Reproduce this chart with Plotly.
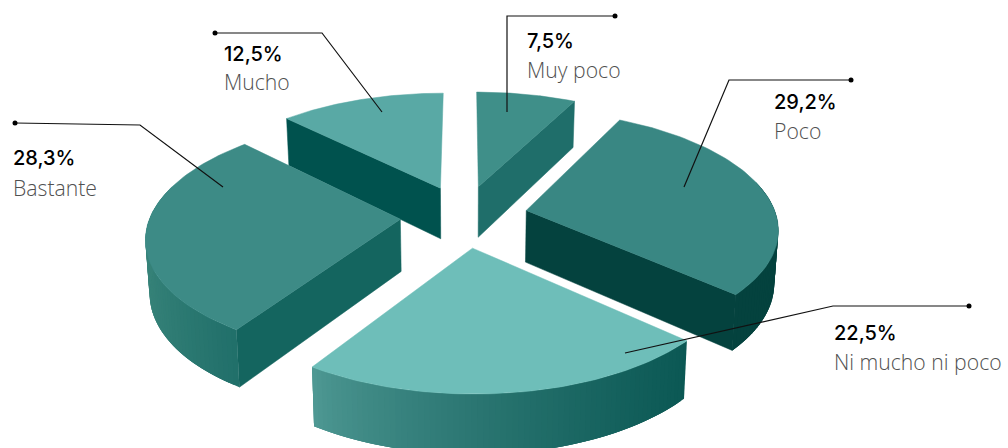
import numpy as np
import plotly.graph_objects as go

# Survey shares, clockwise from twelve o'clock
categories = ["Muy poco", "Poco", "Ni mucho ni poco", "Bastante", "Mucho"]
values = [7.5, 29.2, 22.5, 28.3, 12.5]

# Face colours per slice
top_colors = ["#3f8f89", "#398783", "#6ebeb9", "#3d8b86", "#59a9a5"]
wall_start = ["#1f6e6a", "#04423e", "#0b5854", "#14655f", "#00524e"]
wall_end = ["#1f6e6a", "#04423e", "#0b5854", "#14655f", "#00524e"]
rim_left = ["#1f6e6a", "#04423e", "#4f9994", "#378379", "#00524e"]
rim_right = ["#1f6e6a", "#04423e", "#0b5854", "#1f6e69", "#00524e"]
draw_order = [4, 0, 3, 1, 2]
# Radial wall turned towards the viewer: 0 = leading edge, -1 = trailing edge
facing_wall = [-1, -1, None, 0, 0]

# Label placement: text corner, leader polyline
label_xy = [(527, 41, 69), (774, 102, 130), (834, 333, 361), (13, 158, 187), (224, 54, 81)]
leaders = [
    [(615, 16), (507, 16), (507, 112)],
    [(851, 80), (729, 80), (684, 187)],
    [(969, 306), (833, 306), (625, 353)],
    [(15, 123), (140, 125), (223, 187)],
    [(215, 33), (322, 33), (382, 112)],
]

# Projection of the tilted disc onto the page
CX, CY, A, B, P = 464.0, 216.0, 250.0, 115.5, 0.14
EXPLODE_X, EXPLODE_Y, DEPTH, DEPTH_P, FOOT_SCALE = 0.255, 0.27, 52.0, 0.11, 0.987
ARC_STEPS = 72


def project(X, Y, lower=False):
    X, Y = np.asarray(X, float), np.asarray(Y, float)
    f = 1.0 / (1.0 + P * Y)
    sx, sy = A * X * f, -B * Y * f
    if lower:
        return CX + sx * FOOT_SCALE, CY + sy + DEPTH / (1.0 + DEPTH_P * Y)
    return CX + sx, CY + sy


def mix(c1, c2, t):
    a = [int(c1[i:i + 2], 16) for i in (1, 3, 5)]
    b = [int(c2[i:i + 2], 16) for i in (1, 3, 5)]
    return "rgb({},{},{})".format(*[round(p + (q - p) * t) for p, q in zip(a, b)])


def polygon(xs, ys, color, edge=0.5):
    return go.Scatter(
        x=list(xs) + [xs[0]], y=list(ys) + [ys[0]], mode="lines", fill="toself",
        fillcolor=color, line=dict(color=color, width=edge), hoverinfo="skip", showlegend=False,
    )


fig = go.Figure()
bounds = np.cumsum([0] + values) / sum(values) * 2 * np.pi

for i in draw_order:
    a0, a1 = bounds[i], bounds[i + 1]
    mid = (a0 + a1) / 2
    ox, oy = EXPLODE_X * np.sin(mid), EXPLODE_Y * np.cos(mid)
    th = np.linspace(a0, a1, ARC_STEPS + 1)
    X = ox + np.sin(th)
    Y = oy + np.cos(th)

    # Radial wall
    k = facing_wall[i]
    if k is not None:
        col = wall_end[i] if k == -1 else wall_start[i]
        tx, ty = project([ox, X[k]], [oy, Y[k]])
        bx, by = project([ox, X[k]], [oy, Y[k]], lower=True)
        fig.add_trace(polygon([tx[0], tx[1], bx[1], bx[0]], [ty[0], ty[1], by[1], by[0]], col))

    # Outer rim, shaded from left to right; every strip overlaps the next so no seams show
    tx, ty = project(X, Y)
    bx, by = project(X, Y, lower=True)
    lo, hi = tx.min(), tx.max()
    front = [j for j in range(ARC_STEPS) if np.cos((th[j] + th[j + 1]) / 2) < 0.25]
    for j in front:
        e = min(j + 3, ARC_STEPS)
        t = (((tx[j] + tx[j + 1]) / 2 - lo) / (hi - lo)) ** 0.75
        fig.add_trace(polygon(
            list(tx[j:e + 1]) + list(bx[j:e + 1])[::-1],
            list(ty[j:e + 1]) + list(by[j:e + 1])[::-1],
            mix(rim_left[i], rim_right[i], t), edge=0,
        ))

    # Top face
    ax, ay = project([ox], [oy])
    fig.add_trace(polygon([ax[0]] + list(tx), [ay[0]] + list(ty), top_colors[i]))

# Leader lines and captions
for i, name in enumerate(categories):
    pts = leaders[i]
    fig.add_trace(go.Scatter(
        x=[p[0] for p in pts], y=[p[1] for p in pts], mode="lines",
        line=dict(color="#111111", width=1.2), hoverinfo="skip", showlegend=False,
    ))
    fig.add_trace(go.Scatter(
        x=[pts[0][0]], y=[pts[0][1]], mode="markers", marker=dict(color="#000000", size=5),
        hoverinfo="skip", showlegend=False,
    ))
    lx, vy, ny = label_xy[i]
    fig.add_annotation(x=lx, y=vy, text=f"{values[i]:.1f}%".replace(".", ","), showarrow=False,
                       xanchor="left", yanchor="middle", xshift=-2,
                       font=dict(family="Inter", size=20, color="#000000", weight=500))
    fig.add_annotation(x=lx, y=ny, text=name, showarrow=False,
                       xanchor="left", yanchor="middle", xshift=-2,
                       font=dict(family="Open Sans", size=21.2, color="#505050", weight=300))

fig.update_layout(
    width=1008, height=448, margin=dict(l=0, r=0, t=0, b=0),
    paper_bgcolor="#ffffff", plot_bgcolor="#ffffff", showlegend=False,
    xaxis=dict(range=[0, 1008], visible=False, fixedrange=True),
    yaxis=dict(range=[448, 0], visible=False, fixedrange=True),
)
fig.write_html("out.html", config={"displayModeBar": False})
